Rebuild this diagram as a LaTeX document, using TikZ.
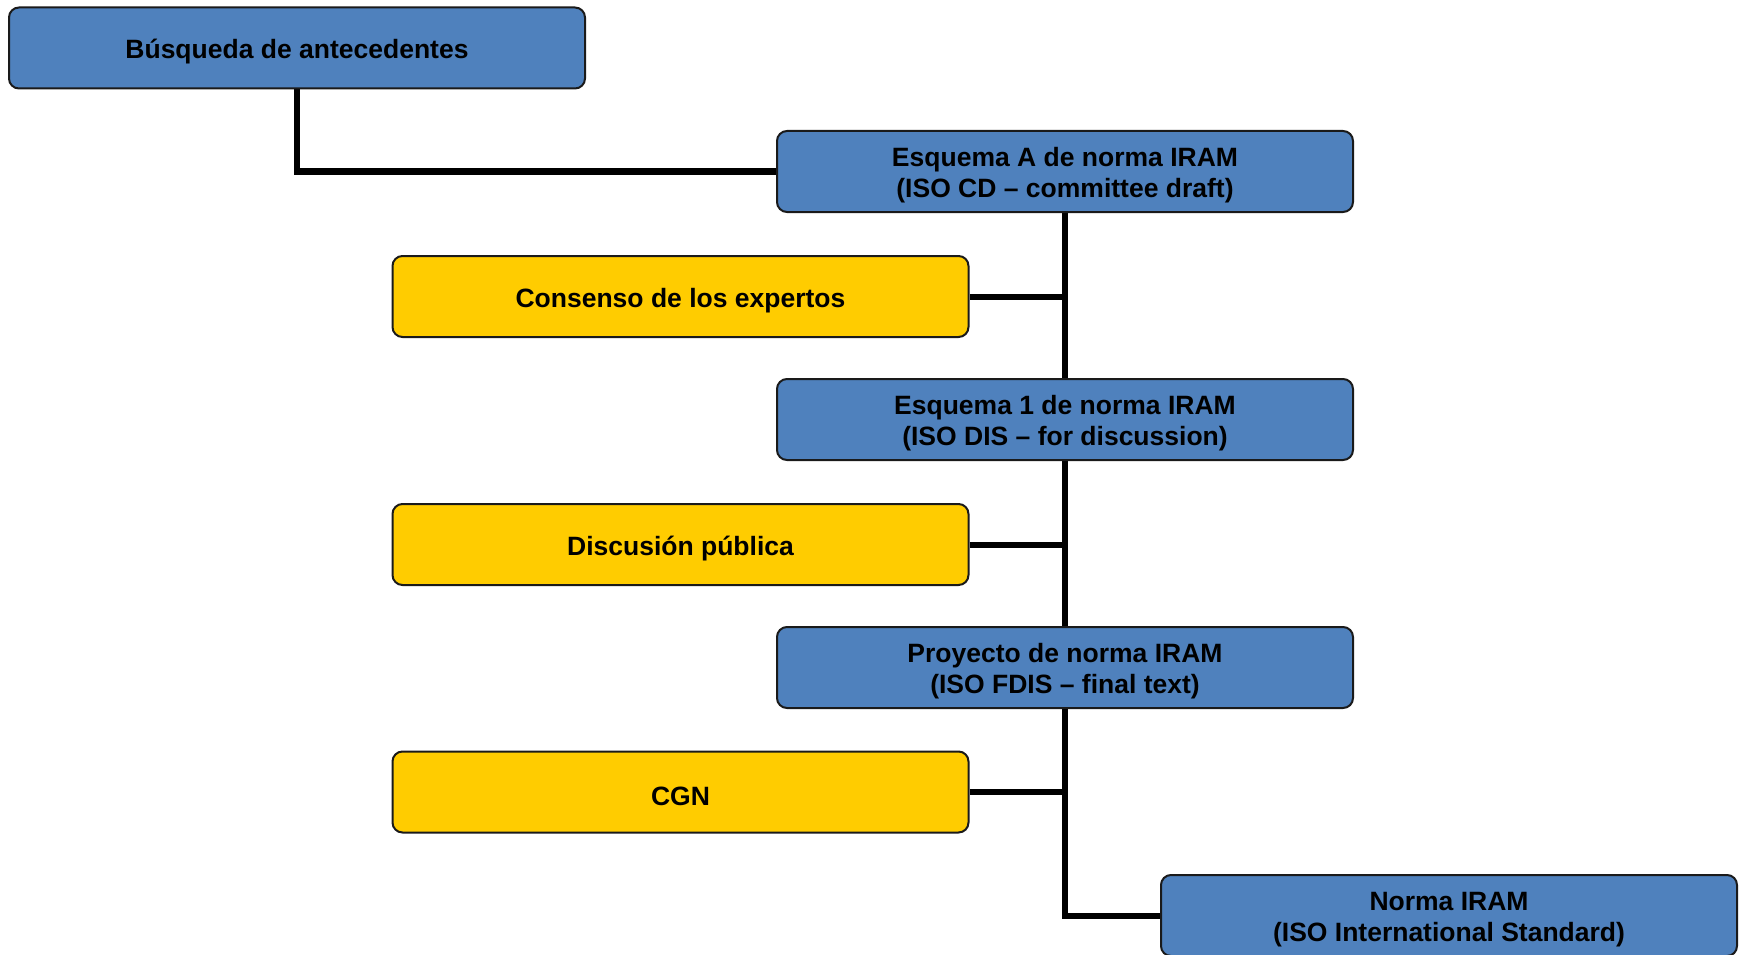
\documentclass[tikz,border=0pt]{standalone}
\usepackage{fontspec}
\setmainfont{Liberation Sans}
\usetikzlibrary{backgrounds}
\definecolor{boxblue}{HTML}{4F81BD}
\definecolor{boxyellow}{HTML}{FFCC00}
\definecolor{boxline}{HTML}{1A1A1A}
\tikzset{
  basebox/.style={draw=boxline, line width=2pt, rounded corners=10pt,
    inner sep=0pt, minimum width=576pt, minimum height=81pt},
  bluebox/.style={basebox, fill=boxblue},
  yellowbox/.style={basebox, fill=boxyellow},
  boxtext/.style={align=center, text=black, inner sep=0pt, yshift=-4pt,
    font=\fontsize{26.5}{31}\selectfont\bfseries},
  conn/.style={line width=6pt, black}
}
\begin{document}
\begin{tikzpicture}[x=1pt,y=-1pt]
\useasboundingbox (0,0) rectangle (1743,955);
\node[bluebox, label={[boxtext]center:Búsqueda de antecedentes}] (b1) at (297,48) {};
\node[bluebox, label={[boxtext]center:Esquema A de norma IRAM\\(ISO CD – committee draft)}] (b2) at (1065,171.5) {};
\node[yellowbox, label={[boxtext]center:Consenso de los expertos}] (y1) at (680.5,296.5) {};
\node[bluebox, label={[boxtext]center:Esquema 1 de norma IRAM\\(ISO DIS – for discussion)}] (b3) at (1065,419.5) {};
\node[yellowbox, label={[boxtext]center:Discusión pública}] (y2) at (680.5,544.5) {};
\node[bluebox, label={[boxtext]center:Proyecto de norma IRAM\\(ISO FDIS – final text)}] (b4) at (1065,667.5) {};
\node[yellowbox, label={[boxtext]center:CGN}] (y3) at (680.5,792) {};
\node[bluebox, label={[boxtext]center:Norma IRAM\\(ISO International Standard)}] (b5) at (1449,915.5) {};
\begin{scope}[on background layer]
\draw[conn] (b1.south) |- (b2.west);
\draw[conn] (b2.south) -- (b3.north);
\draw[conn] (b3.south) -- (b4.north);
\draw[conn] (b4.south) |- (b5.west);
\draw[conn] (y1.east) -- (y1.east -| b2.south);
\draw[conn] (y2.east) -- (y2.east -| b3.south);
\draw[conn] (y3.east) -- (y3.east -| b4.south);
\end{scope}
\end{tikzpicture}
\end{document}
